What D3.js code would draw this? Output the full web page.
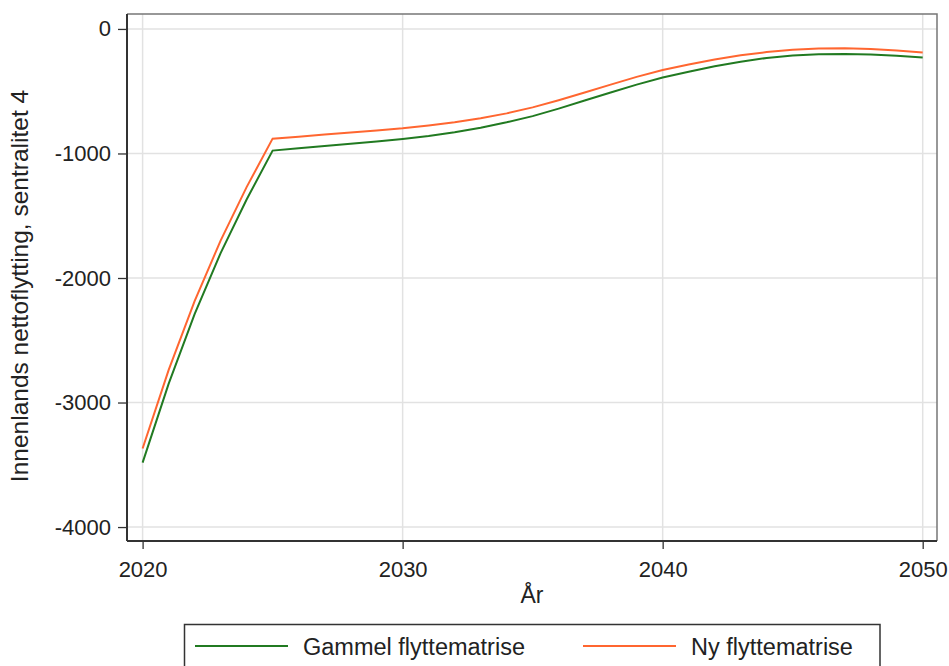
<!DOCTYPE html>
<html>
<head>
<meta charset="utf-8">
<script src="https://cdn.jsdelivr.net/npm/d3@7"></script>
<style>
  body { margin: 0; background: #fff; }
  svg { font-family: "Liberation Sans", Arial, sans-serif; }
</style>
</head>
<body>
<svg width="949" height="666"></svg>
<script>
const years = d3.range(2020, 2051);
const gammel = [-3483, -2850, -2290, -1800, -1370, -977, -958, -940, -922, -904, -884,
  -860, -830, -793, -750, -700, -640, -575, -510, -447, -390,
  -343, -300, -263, -233, -213, -203, -201, -205, -215, -230];
const ny = [-3369, -2740, -2185, -1700, -1270, -881, -865, -848, -832, -815, -798,
  -776, -750, -717, -678, -630, -572, -510, -447, -385, -330,
  -285, -245, -212, -186, -168, -158, -156, -162, -174, -190];
const xTicks = [2020, 2030, 2040, 2050];
const yTicks = [0, -1000, -2000, -3000, -4000];
const seriesNames = ["Gammel flyttematrise", "Ny flyttematrise"];
const seriesColors = ["#217a21", "#ff6630"];

const svg = d3.select("svg"),
  margin = { top: 14, right: 12, bottom: 125, left: 127 },
  width = +svg.attr("width") - margin.left - margin.right,
  height = +svg.attr("height") - margin.top - margin.bottom;

const x = d3.scaleLinear().domain([2019.4, 2050.55]).range([0, width]);
const y = d3.scaleLinear().domain([120, -4112]).range([0, height]);

const g = svg.append("g").attr("transform", `translate(${margin.left},${margin.top})`);

// grid
g.selectAll(".gx").data(xTicks).enter().append("line")
  .attr("x1", d => x(d)).attr("x2", d => x(d))
  .attr("y1", 0).attr("y2", height)
  .attr("stroke", "#e2e2e2").attr("stroke-width", 1.5);
g.selectAll(".gy").data(yTicks).enter().append("line")
  .attr("y1", d => y(d)).attr("y2", d => y(d))
  .attr("x1", 0).attr("x2", width)
  .attr("stroke", "#e2e2e2").attr("stroke-width", 1.5);

// frame top/right
g.append("path")
  .attr("d", `M0,0H${width}V${height}`)
  .attr("fill", "none").attr("stroke", "#777").attr("stroke-width", 1.5);

// lines
const line = d3.line().x((d, i) => x(years[i])).y(d => y(d));
[gammel, ny].forEach((s, i) => {
  g.append("path").datum(s)
    .attr("d", line)
    .attr("fill", "none")
    .attr("stroke", seriesColors[i])
    .attr("stroke-width", 2);
});

// axes
const xAxis = g.append("g")
  .attr("transform", `translate(0,${height})`)
  .call(d3.axisBottom(x).tickValues(xTicks).tickFormat(d3.format("d")).tickSize(8).tickPadding(12));
const yAxis = g.append("g")
  .call(d3.axisLeft(y).tickValues(yTicks).tickFormat(d => d).tickSize(9).tickPadding(7));
[xAxis, yAxis].forEach(a => {
  a.select(".domain").attr("stroke", "#333").attr("stroke-width", 2);
  a.selectAll(".tick line").attr("stroke", "#333").attr("stroke-width", 1.3);
  a.selectAll("text").attr("font-size", 22).attr("fill", "#222")
    .attr("font-family", "Liberation Sans, Arial, sans-serif");
});
xAxis.select(".domain").attr("d", `M0,0H${width}`);
yAxis.select(".domain").attr("d", `M0,0V${height}`);

// axis titles
svg.append("text")
  .attr("x", margin.left + width / 2).attr("y", 603)
  .attr("text-anchor", "middle").attr("font-size", 23).attr("fill", "#222")
  .text("År");
svg.append("text")
  .attr("transform", `translate(28,286) rotate(-90)`)
  .attr("text-anchor", "middle").attr("font-size", 24.5).attr("fill", "#222")
  .text("Innenlands nettoflytting, sentralitet 4");

// legend
const leg = svg.append("g");
leg.append("rect")
  .attr("x", 184.5).attr("y", 624.5).attr("width", 695.5).attr("height", 60)
  .attr("fill", "#fff").attr("stroke", "#333").attr("stroke-width", 1.5);
const legX = [195, 583];
seriesNames.forEach((n, i) => {
  leg.append("line")
    .attr("x1", legX[i]).attr("x2", legX[i] + 93)
    .attr("y1", 646).attr("y2", 646)
    .attr("stroke", seriesColors[i]).attr("stroke-width", 2);
  leg.append("text")
    .attr("x", legX[i] + 108).attr("y", 655)
    .attr("font-size", 23.5).attr("fill", "#222")
    .text(n);
});
</script>
</body>
</html>
